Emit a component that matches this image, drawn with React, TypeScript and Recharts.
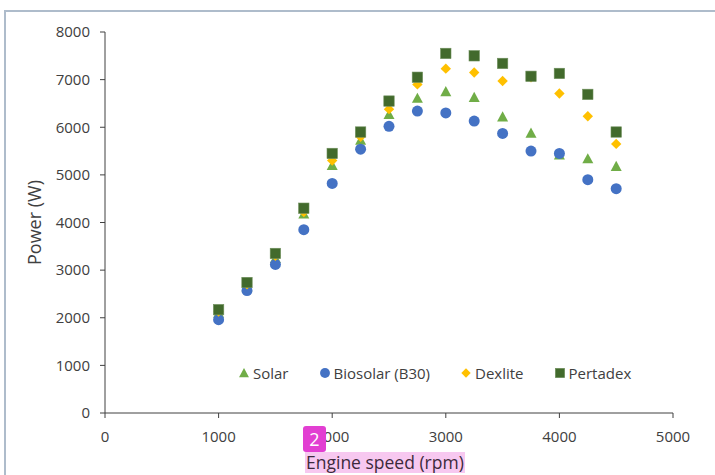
import React from 'react';
import { ScatterChart, Scatter, XAxis, YAxis, Label } from 'recharts';

const speeds = [1000, 1250, 1500, 1750, 2000, 2250, 2500, 2750, 3000, 3250, 3500, 3750, 4000, 4250, 4500];
const solar = [2100, 2650, 3250, 4180, 5200, 5730, 6270, 6610, 6750, 6630, 6220, 5880, 5420, 5340, 5180];
const biosolar = [1960, 2570, 3120, 3850, 4820, 5540, 6020, 6340, 6300, 6130, 5870, 5500, 5450, 4900, 4710];
const dexlite = [2130, 2700, 3300, 4220, 5300, 5800, 6380, 6900, 7230, 7150, 6970, 7050, 6710, 6230, 5650];
const pertadex = [2170, 2740, 3350, 4300, 5450, 5900, 6550, 7050, 7550, 7500, 7340, 7070, 7130, 6690, 5900];

const xTicks = [0, 1000, 2000, 3000, 4000, 5000];
const yTicks = [0, 1000, 2000, 3000, 4000, 5000, 6000, 7000, 8000];

const seriesNames = ['Solar', 'Biosolar (B30)', 'Dexlite', 'Pertadex'];
const seriesColors = ['#70ad47', '#4472c4', '#ffc000', '#426a2c'];
const seriesKinds = ['triangle', 'circle', 'diamond', 'square'];
const seriesValues = [solar, biosolar, dexlite, pertadex];

const toPoints = (vals: number[]) => speeds.map((x, i) => ({ x, y: vals[i] }));

const FONT = '"Open Sans", sans-serif';

function Marker({ kind, cx, cy, color, s = 1 }: { kind: string; cx: number; cy: number; color: string; s?: number }) {
  if (kind === 'triangle') {
    const h = 5.5 * s;
    return <polygon points={`${cx},${cy - h} ${cx + h},${cy + h * 0.85} ${cx - h},${cy + h * 0.85}`} fill={color} />;
  }
  if (kind === 'circle') return <circle cx={cx} cy={cy} r={5.5 * s} fill={color} />;
  if (kind === 'diamond') {
    const h = 5.2 * s;
    return <polygon points={`${cx},${cy - h} ${cx + h},${cy} ${cx},${cy + h} ${cx - h},${cy}`} fill={color} />;
  }
  const h = 5.2 * s;
  return <rect x={cx - h} y={cy - h} width={2 * h} height={2 * h} fill={color} stroke="#6e8f5c" strokeWidth={0.6} />;
}

export default function App() {
  return (
    <div style={{ position: 'absolute', left: 0, top: 0, width: 715, height: 475, background: '#fff', overflow: 'hidden' }}>
      <div
        style={{
          position: 'absolute',
          left: 4,
          top: 10,
          width: 730,
          height: 480,
          borderLeft: '2px solid #aebccb',
          borderTop: '2px solid #aebccb',
        }}
      />
      <div style={{ position: 'absolute', left: 0, top: 0 }}>
        <ScatterChart width={715} height={475} margin={{ top: 32, right: 42, left: 0, bottom: 0 }}>
          <XAxis
            type="number"
            dataKey="x"
            domain={[0, 5000]}
            ticks={xTicks}
            height={62}
            tickSize={5}
            tickMargin={13}
            stroke="#404040"
            tick={{ fill: '#404040', fontSize: 15, fontFamily: FONT }}
            interval={0}
          />
          <YAxis
            type="number"
            dataKey="y"
            domain={[0, 8000]}
            ticks={yTicks}
            width={105}
            tickSize={5}
            tickMargin={10}
            stroke="#404040"
            tick={{ fill: '#404040', fontSize: 15, fontFamily: FONT }}
            interval={0}
          >
            <Label
              value="Power (W)"
              angle={-90}
              position="insideLeft"
              offset={35}
              style={{ fill: '#404040', fontSize: 18, fontFamily: FONT, textAnchor: 'middle' }}
            />
          </YAxis>
          {seriesNames.map((name, i) => (
            <Scatter
              key={name}
              name={name}
              data={toPoints(seriesValues[i])}
              isAnimationActive={false}
              shape={(p: any) => <Marker kind={seriesKinds[i]} cx={p.cx} cy={p.cy} color={seriesColors[i]} />}
            />
          ))}
        </ScatterChart>
      </div>
      {/* legend */}
      <div
        style={{
          position: 'absolute',
          left: 238,
          top: 363,
          display: 'flex',
          alignItems: 'center',
          fontFamily: FONT,
          fontSize: 15,
          color: '#404040',
          whiteSpace: 'nowrap',
        }}
      >
        {seriesNames.map((name, i) => (
          <div key={name} style={{ display: 'flex', alignItems: 'center', marginRight: 30 }}>
            <svg width={12} height={12} style={{ marginRight: 3 }}>
              <Marker kind={seriesKinds[i]} cx={6} cy={6} color={seriesColors[i]} s={0.9} />
            </svg>
            <span>{name}</span>
          </div>
        ))}
      </div>
      {/* x-axis title with highlight */}
      <div
        style={{
          position: 'absolute',
          left: 305,
          top: 452,
          height: 21,
          lineHeight: '21px',
          padding: '0 1px',
          background: '#f7c8f0',
          fontFamily: FONT,
          fontSize: 17.5,
          color: '#3d2a3c',
          whiteSpace: 'nowrap',
        }}
      >
        Engine speed (rpm)
      </div>
      <div
        style={{
          position: 'absolute',
          left: 303,
          top: 426,
          width: 23,
          height: 26,
          borderRadius: 3,
          background: '#e23fd2',
          color: '#fff',
          fontFamily: FONT,
          fontSize: 18,
          lineHeight: '26px',
          textAlign: 'center',
        }}
      >
        2
      </div>
    </div>
  );
}
